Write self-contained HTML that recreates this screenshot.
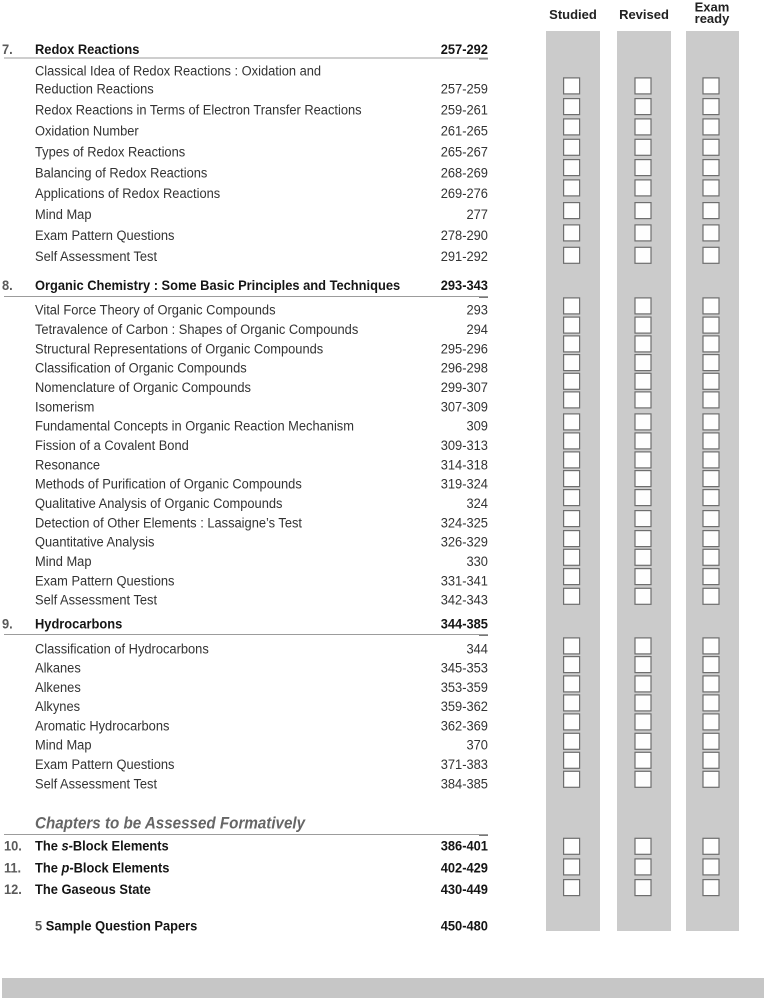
<!DOCTYPE html>
<html><head><meta charset="utf-8"><style>
html,body{margin:0;padding:0;background:#fff;}
svg{display:block;}
text{font-family:"Liberation Sans",Arial,sans-serif;}
.it{font-size:14px;fill:#333;}
.pg{font-size:14px;fill:#333;text-anchor:end;}
.hd{font-size:14px;font-weight:bold;fill:#151515;}
.hp{font-size:14px;font-weight:bold;fill:#151515;text-anchor:end;}
.nm{font-size:14px;font-weight:bold;fill:#5a5a5a;}
.ch{font-size:13px;font-weight:bold;fill:#222;text-anchor:middle;}
</style></head><body>
<svg width="766" height="1000" viewBox="0 0 766 1000" xmlns="http://www.w3.org/2000/svg">
<rect x="0" y="0" width="766" height="1000" fill="#fff"/>
<!-- column headers -->
<text class="ch" x="573" y="19">Studied</text>
<text class="ch" x="644" y="19">Revised</text>
<text class="ch" x="712" y="11.5">Exam</text>
<text class="ch" x="712" y="23">ready</text>
<!-- gray columns -->
<rect x="546" y="31" width="54" height="900" fill="#cbcbcb"/>
<rect x="617" y="31" width="54" height="900" fill="#cbcbcb"/>
<rect x="686" y="31" width="53" height="900" fill="#cbcbcb"/>
<!-- bottom bar -->
<rect x="2" y="978" width="762" height="20" fill="#c6c6c6"/>
<!-- header rules -->
<g stroke="#9c9c9c" stroke-width="1">
<line x1="4" y1="58" x2="488" y2="58"/>
<line x1="4" y1="296.5" x2="488" y2="296.5"/>
<line x1="4" y1="634.5" x2="488" y2="634.5"/>
<line x1="4" y1="834.5" x2="488" y2="834.5"/>
</g>
<g stroke="#777" stroke-width="1">
<line x1="479" y1="59" x2="488" y2="59"/>
<line x1="479" y1="297.5" x2="488" y2="297.5"/>
<line x1="479" y1="635.5" x2="488" y2="635.5"/>
<line x1="479" y1="835.5" x2="488" y2="835.5"/>
</g>
<!-- checkboxes -->
<g id="c1" fill="#fefefe" stroke="#6e6e6e" stroke-width="1.2">
<rect x="563.6" y="77.9" width="16" height="16"/>
<rect x="563.6" y="98.6" width="16" height="16"/>
<rect x="563.6" y="118.9" width="16" height="16"/>
<rect x="563.6" y="139.3" width="16" height="16"/>
<rect x="563.6" y="159.6" width="16" height="16"/>
<rect x="563.6" y="179.9" width="16" height="16"/>
<rect x="563.6" y="202.6" width="16" height="16"/>
<rect x="563.6" y="224.9" width="16" height="16"/>
<rect x="563.6" y="247.3" width="16" height="16"/>
<rect x="563.6" y="297.9" width="16" height="16"/>
<rect x="563.6" y="317.1" width="16" height="16"/>
<rect x="563.6" y="335.9" width="16" height="16"/>
<rect x="563.6" y="354.6" width="16" height="16"/>
<rect x="563.6" y="373.3" width="16" height="16"/>
<rect x="563.6" y="391.9" width="16" height="16"/>
<rect x="563.6" y="413.9" width="16" height="16"/>
<rect x="563.6" y="432.9" width="16" height="16"/>
<rect x="563.6" y="451.9" width="16" height="16"/>
<rect x="563.6" y="470.6" width="16" height="16"/>
<rect x="563.6" y="489.6" width="16" height="16"/>
<rect x="563.6" y="510.6" width="16" height="16"/>
<rect x="563.6" y="530.6" width="16" height="16"/>
<rect x="563.6" y="549.3" width="16" height="16"/>
<rect x="563.6" y="568.6" width="16" height="16"/>
<rect x="563.6" y="588.3" width="16" height="16"/>
<rect x="563.6" y="637.9" width="16" height="16"/>
<rect x="563.6" y="656.6" width="16" height="16"/>
<rect x="563.6" y="675.9" width="16" height="16"/>
<rect x="563.6" y="694.9" width="16" height="16"/>
<rect x="563.6" y="713.9" width="16" height="16"/>
<rect x="563.6" y="733.3" width="16" height="16"/>
<rect x="563.6" y="752.3" width="16" height="16"/>
<rect x="563.6" y="771.3" width="16" height="16"/>
<rect x="563.6" y="838.3" width="16" height="16"/>
<rect x="563.6" y="858.9" width="16" height="16"/>
<rect x="563.6" y="879.6" width="16" height="16"/>
</g>
<use href="#c1" x="71.4" y="0"/>
<use href="#c1" x="139.4" y="0"/>

<!-- left text, horizontally condensed -->
<g transform="scale(0.92 1)">
<!-- Section 7 -->
<text class="nm" x="2.2" y="54">7.</text>
<text class="hd" x="38.04" y="54">Redox Reactions</text>
<text class="hp" x="530.4" y="54">257-292</text>
<text class="it" x="38.04" y="75.3">Classical Idea of Redox Reactions : Oxidation and</text>
<text class="it" x="38.04" y="93.7">Reduction Reactions</text><text class="pg" x="530.4" y="93.7">257-259</text>
<text class="it" x="38.04" y="114.6">Redox Reactions in Terms of Electron Transfer Reactions</text><text class="pg" x="530.4" y="114.6">259-261</text>
<text class="it" x="38.04" y="135.5">Oxidation Number</text><text class="pg" x="530.4" y="135.5">261-265</text>
<text class="it" x="38.04" y="156.4">Types of Redox Reactions</text><text class="pg" x="530.4" y="156.4">265-267</text>
<text class="it" x="38.04" y="177.3">Balancing of Redox Reactions</text><text class="pg" x="530.4" y="177.3">268-269</text>
<text class="it" x="38.04" y="198.2">Applications of Redox Reactions</text><text class="pg" x="530.4" y="198.2">269-276</text>
<text class="it" x="38.04" y="219.1">Mind Map</text><text class="pg" x="530.4" y="219.1">277</text>
<text class="it" x="38.04" y="240">Exam Pattern Questions</text><text class="pg" x="530.4" y="240">278-290</text>
<text class="it" x="38.04" y="260.9">Self Assessment Test</text><text class="pg" x="530.4" y="260.9">291-292</text>

<!-- Section 8 -->
<text class="nm" x="2.2" y="290">8.</text>
<text class="hd" x="38.04" y="290">Organic Chemistry : Some Basic Principles and Techniques</text>
<text class="hp" x="530.4" y="290">293-343</text>
<text class="it" x="38.04" y="314.7">Vital Force Theory of Organic Compounds</text><text class="pg" x="530.4" y="314.7">293</text>
<text class="it" x="38.04" y="334">Tetravalence of Carbon : Shapes of Organic Compounds</text><text class="pg" x="530.4" y="334">294</text>
<text class="it" x="38.04" y="353.4">Structural Representations of Organic Compounds</text><text class="pg" x="530.4" y="353.4">295-296</text>
<text class="it" x="38.04" y="372.7">Classification of Organic Compounds</text><text class="pg" x="530.4" y="372.7">296-298</text>
<text class="it" x="38.04" y="392">Nomenclature of Organic Compounds</text><text class="pg" x="530.4" y="392">299-307</text>
<text class="it" x="38.04" y="411.4">Isomerism</text><text class="pg" x="530.4" y="411.4">307-309</text>
<text class="it" x="38.04" y="430.7">Fundamental Concepts in Organic Reaction Mechanism</text><text class="pg" x="530.4" y="430.7">309</text>
<text class="it" x="38.04" y="450">Fission of a Covalent Bond</text><text class="pg" x="530.4" y="450">309-313</text>
<text class="it" x="38.04" y="469.3">Resonance</text><text class="pg" x="530.4" y="469.3">314-318</text>
<text class="it" x="38.04" y="488.7">Methods of Purification of Organic Compounds</text><text class="pg" x="530.4" y="488.7">319-324</text>
<text class="it" x="38.04" y="508">Qualitative Analysis of Organic Compounds</text><text class="pg" x="530.4" y="508">324</text>
<text class="it" x="38.04" y="527.3">Detection of Other Elements : Lassaigne’s Test</text><text class="pg" x="530.4" y="527.3">324-325</text>
<text class="it" x="38.04" y="546.7">Quantitative Analysis</text><text class="pg" x="530.4" y="546.7">326-329</text>
<text class="it" x="38.04" y="566">Mind Map</text><text class="pg" x="530.4" y="566">330</text>
<text class="it" x="38.04" y="585.3">Exam Pattern Questions</text><text class="pg" x="530.4" y="585.3">331-341</text>
<text class="it" x="38.04" y="604.7">Self Assessment Test</text><text class="pg" x="530.4" y="604.7">342-343</text>

<!-- Section 9 -->
<text class="nm" x="2.2" y="628.3">9.</text>
<text class="hd" x="38.04" y="628.3">Hydrocarbons</text>
<text class="hp" x="530.4" y="628.3">344-385</text>
<text class="it" x="38.04" y="653.3">Classification of Hydrocarbons</text><text class="pg" x="530.4" y="653.3">344</text>
<text class="it" x="38.04" y="672.6">Alkanes</text><text class="pg" x="530.4" y="672.6">345-353</text>
<text class="it" x="38.04" y="691.9">Alkenes</text><text class="pg" x="530.4" y="691.9">353-359</text>
<text class="it" x="38.04" y="711.1">Alkynes</text><text class="pg" x="530.4" y="711.1">359-362</text>
<text class="it" x="38.04" y="730.4">Aromatic Hydrocarbons</text><text class="pg" x="530.4" y="730.4">362-369</text>
<text class="it" x="38.04" y="749.7">Mind Map</text><text class="pg" x="530.4" y="749.7">370</text>
<text class="it" x="38.04" y="769">Exam Pattern Questions</text><text class="pg" x="530.4" y="769">371-383</text>
<text class="it" x="38.04" y="788.3">Self Assessment Test</text><text class="pg" x="530.4" y="788.3">384-385</text>

<!-- Formative -->
<text x="38.04" y="828.5" style="font-size:16.5px;font-weight:bold;font-style:italic;fill:#666;">Chapters to be Assessed Formatively</text>
<text class="nm" x="4.3" y="850.7">10.</text>
<text class="hd" x="38.04" y="850.7">The <tspan font-style="italic">s</tspan>-Block Elements</text>
<text class="hp" x="530.4" y="850.7">386-401</text>
<text class="nm" x="4.3" y="872.5">11.</text>
<text class="hd" x="38.04" y="872.5">The <tspan font-style="italic">p</tspan>-Block Elements</text>
<text class="hp" x="530.4" y="872.5">402-429</text>
<text class="nm" x="4.3" y="894">12.</text>
<text class="hd" x="38.04" y="894">The Gaseous State</text>
<text class="hp" x="530.4" y="894">430-449</text>

<text class="hd" x="38.04" y="930.5"><tspan fill="#5a5a5a">5</tspan> Sample Question Papers</text>
<text class="hp" x="530.4" y="930.5">450-480</text>
</g>
</svg>
</body></html>
